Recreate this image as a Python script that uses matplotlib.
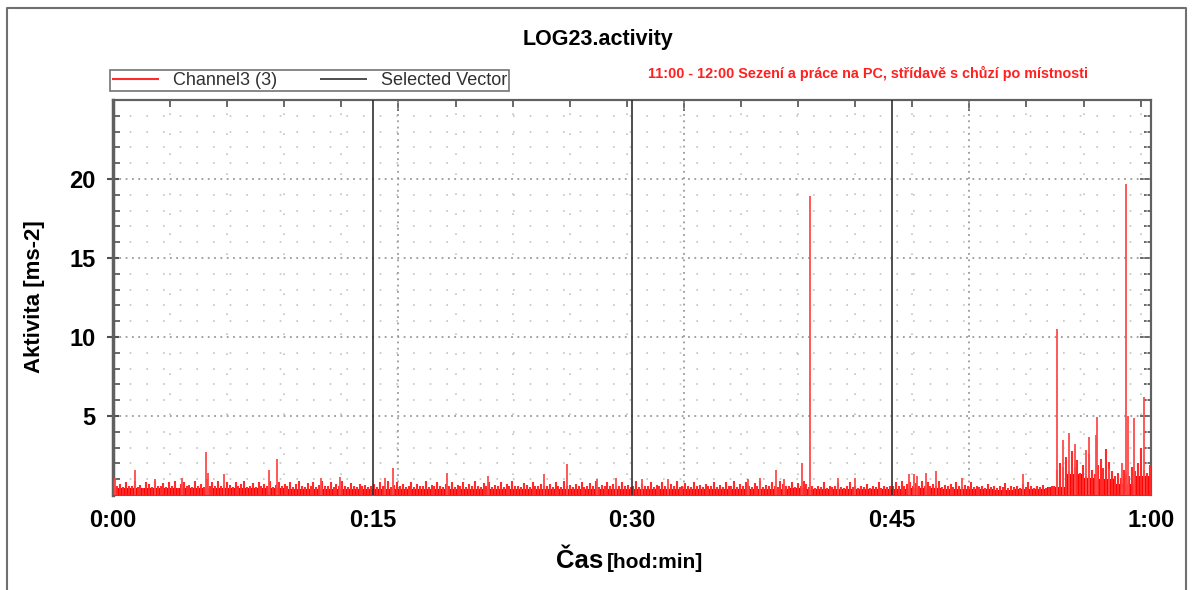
import numpy as np
import matplotlib
matplotlib.use("Agg")
import matplotlib.pyplot as plt
from matplotlib.lines import Line2D

plt.rcParams['font.family'] = ['Liberation Sans', 'DejaVu Sans']

# --- data (time in minutes, activity in ms-2) ---
# solid red floor, one value per minute
floor_min = [0.45, 0.47, 0.42, 0.45, 0.47, 0.45, 0.42, 0.45, 0.47, 0.42,
             0.40, 0.40, 0.38, 0.36, 0.40, 0.38, 0.36, 0.35, 0.36, 0.35,
             0.36, 0.35, 0.38, 0.35, 0.36, 0.38, 0.35, 0.36, 0.35, 0.38,
             0.35, 0.36, 0.38, 0.35, 0.36, 0.35, 0.38, 0.40, 0.40, 0.42,
             0.40, 0.36, 0.35, 0.36, 0.35, 0.38, 0.42, 0.45, 0.40, 0.36,
             0.35, 0.33, 0.35, 0.36, 0.50, 1.30, 1.10, 1.00, 0.70, 1.20]

# texture tops, one value per 10 s (rows of 5 minutes)
act_10s = [
    0.95, 0.6, 0.7, 0.5, 0.8, 0.55, 0.6, 0.9, 0.5, 0.65, 0.45, 0.85, 0.7, 0.5, 0.9, 0.6, 0.55, 0.75, 0.5, 0.8, 0.6, 0.9, 0.45, 0.7, 0.85, 0.55, 0.65, 0.5, 0.9, 0.6,
    0.7, 0.5, 1.0, 0.6, 0.8, 0.55, 0.9, 0.6, 0.5, 0.85, 0.65, 0.5, 0.8, 0.55, 0.7, 0.9, 0.5, 0.6, 0.75, 0.5, 0.85, 0.6, 0.7, 0.55, 0.9, 0.5, 0.65, 0.8, 0.6, 0.7,
    0.6, 0.8, 0.5, 0.7, 0.9, 0.55, 0.5, 0.75, 0.6, 0.85, 0.5, 0.65, 0.9, 0.55, 0.6, 0.8, 0.5, 0.7, 0.55, 0.9, 0.6, 0.5, 0.75, 0.6, 0.5, 0.7, 0.55, 0.65, 0.5, 0.6,
    0.7, 0.5, 0.85, 0.55, 0.6, 0.9, 0.5, 0.65, 0.8, 0.55, 0.7, 0.5, 0.6, 0.85, 0.5, 0.7, 0.55, 0.6, 0.9, 0.5, 0.65, 0.55, 0.8, 0.6, 0.5, 0.7, 0.6, 0.85, 0.5, 0.65,
    0.6, 0.8, 0.5, 0.7, 0.55, 0.9, 0.6, 0.5, 0.75, 0.6, 0.85, 0.5, 0.65, 0.55, 0.8, 0.5, 0.7, 0.6, 0.9, 0.55, 0.6, 0.5, 0.75, 0.65, 0.5, 0.8, 0.6, 0.55, 0.7, 0.6,
    0.55, 0.7, 0.5, 0.85, 0.6, 0.5, 0.9, 0.55, 0.65, 0.5, 0.7, 0.6, 0.8, 0.5, 0.6, 0.75, 0.55, 0.9, 0.5, 0.65, 0.6, 0.8, 0.55, 0.7, 0.5, 0.6, 0.85, 0.55, 0.65, 0.5,
    0.6, 0.9, 0.5, 0.7, 0.55, 0.6, 0.8, 0.5, 0.65, 0.55, 0.85, 0.6, 0.5, 0.7, 0.6, 0.9, 0.5, 0.55, 0.75, 0.6, 0.5, 0.8, 0.55, 0.65, 0.5, 0.7, 0.6, 0.55, 0.85, 0.5,
    0.65, 0.5, 0.8, 0.6, 0.55, 0.9, 0.5, 0.7, 0.6, 0.85, 0.55, 0.5, 0.75, 0.6, 0.9, 0.5, 0.65, 0.55, 0.8, 0.6, 0.5, 0.9, 0.7, 0.55, 0.6, 0.85, 0.5, 0.75, 0.6, 0.9,
    0.7, 0.5, 0.6, 0.45, 0.55, 0.5, 0.8, 0.45, 0.6, 0.5, 0.55, 0.75, 0.5, 0.45, 0.6, 0.85, 0.5, 0.55, 0.45, 0.6, 0.5, 0.7, 0.45, 0.55, 0.5, 0.8, 0.45, 0.6, 0.5, 0.55,
    0.6, 0.8, 0.55, 0.9, 0.6, 0.7, 0.85, 0.6, 0.75, 0.55, 0.9, 0.6, 0.8, 0.55, 0.7, 0.6, 0.9, 0.5, 0.65, 0.55, 0.7, 0.5, 0.85, 0.6, 0.5, 0.65, 0.55, 0.8, 0.5, 0.6,
    0.5, 0.6, 0.45, 0.7, 0.5, 0.55, 0.45, 0.6, 0.5, 0.75, 0.45, 0.55, 0.5, 0.6, 0.45, 0.7, 0.5, 0.85, 0.55, 0.45, 0.6, 0.5, 0.65, 0.45, 0.5, 0.55, 0.6, 1.6, 2.0, 1.8,
    2.4, 1.5, 2.8, 1.8, 2.2, 1.4, 1.9, 1.2, 2.6, 1.6, 1.3, 1.9, 2.3, 1.7, 2.9, 2.1, 1.5, 1.2, 1.4, 1.1, 1.6, 1.3, 1.2, 1.8, 1.5, 2.0, 3.0, 1.6, 1.4, 1.9,
]

# notable spikes
spike_t = [0.10, 1.27, 2.40, 4.00, 5.36, 5.50, 6.40, 9.00, 9.50, 12.0,
           13.1, 15.7, 16.2, 19.3, 21.7, 24.9, 26.25, 28.0, 29.05, 30.55,
           32.1, 36.7, 37.4, 38.3, 38.8, 39.85, 40.3, 41.9, 42.9, 46.0,
           46.3, 46.5, 47.0, 47.6, 49.1, 52.6, 54.57, 54.9, 55.25, 55.6,
           56.25, 56.4, 56.8, 56.9, 57.6, 58.3, 58.57, 58.65, 58.99, 59.6]
spike_v = [1.05, 1.6, 1.0, 1.05, 2.7, 1.4, 1.3, 1.6, 2.3, 1.1,
           1.15, 1.1, 1.7, 1.4, 1.2, 1.3, 1.95, 1.0, 1.05, 1.0,
           1.0, 1.0, 1.05, 1.6, 1.0, 2.0, 18.9, 1.1, 1.1, 1.3,
           1.35, 1.2, 1.4, 1.55, 1.05, 1.3, 10.5, 3.5, 3.95, 3.2,
           2.85, 3.65, 3.8, 4.95, 1.65, 2.0, 19.7, 5.0, 4.9, 6.2]

selected = [15, 30, 45]
xtick_pos = [0, 15, 30, 45, 60]
xtick_lab = ['0:00', '0:15', '0:30', '0:45', '1:00']
ytick_pos = [5, 10, 15, 20]

RED = '#ff0000'

fig = plt.figure(figsize=(11.92, 5.90), dpi=100)
ax = fig.add_axes([113/1192, 95/590, 1038/1192, 395/590])

edges = np.arange(len(floor_min) + 1)
ax.fill_between(edges, floor_min + [floor_min[-1]], step='post', color=RED, lw=0, zorder=3)

t10 = (np.arange(len(act_10s)) + 0.5) / 6.0
tex = ax.vlines(t10, 0, act_10s, colors='#ff2a2a', lw=1.5, zorder=3, label='Channel3 (3)')
ax.vlines(spike_t, 0, spike_v, colors='#ff4a4a', lw=1.3, zorder=4)

sel = ax.vlines(selected, 0, 25, colors='#303030', lw=1.2, zorder=5, label='Selected Vector')

ax.set_xlim(0, 60)
ax.set_ylim(0, 25)

# grid
ax.set_yticks(ytick_pos)
ax.set_yticks(np.arange(1, 25), minor=True)
ax.set_xticks(xtick_pos)
ax.set_xticklabels(xtick_lab)
for y in ytick_pos:
    ax.axhline(y, color='#9a9a9a', lw=1.3, ls=(0, (1, 2.5)), zorder=1)
for y in range(1, 25):
    if y % 5:
        ax.axhline(y, color='#c4c4c4', lw=1.2, ls=(0, (1, 9)), zorder=1)
top_steps = np.arange(0, 60, 3.3)
for i, x in enumerate(top_steps):
    if i % 5 == 0 and i > 0:
        ax.axvline(x, color='#9a9a9a', lw=1.3, ls=(0, (1, 2.5)), zorder=1)
    elif i > 0:
        ax.axvline(x, color='#c4c4c4', lw=1.2, ls=(0, (1, 11)), zorder=1)

ax.tick_params(axis='x', which='both', length=0, pad=10, labelsize=17)
ax.tick_params(axis='y', which='major', direction='inout', length=9, width=1.5,
               color='#505050', pad=8, labelsize=17)
ax.tick_params(axis='y', which='minor', direction='in', length=5, width=1.2, color='#505050')
for lab in ax.get_xticklabels() + ax.get_yticklabels():
    lab.set_fontweight('bold')

sec_top = ax.secondary_xaxis('top')
sec_top.set_xticks([x for i, x in enumerate(top_steps) if i % 5 == 0 and i > 0])
sec_top.set_xticks([x for i, x in enumerate(top_steps) if i % 5], minor=True)
sec_top.tick_params(which='major', direction='in', length=8, width=1.2, color='#505050', labelsize=0)
sec_top.tick_params(which='minor', direction='in', length=5, width=1.2, color='#505050')
sec_top.set_xticklabels([])

sec_r = ax.secondary_yaxis('right')
sec_r.set_yticks(ytick_pos)
sec_r.set_yticks(np.arange(1, 25), minor=True)
sec_r.tick_params(which='major', direction='in', length=8, width=1.2, color='#505050')
sec_r.tick_params(which='minor', direction='in', length=5, width=1.2, color='#505050')
sec_r.set_yticklabels([])

for s in ax.spines.values():
    s.set_color('#606060')
    s.set_linewidth(1.5)
ax.spines['left'].set_linewidth(2.5)
for a in (sec_top, sec_r):
    for s in a.spines.values():
        s.set_color('#606060')
        s.set_linewidth(1.5)

# texts
fig.text(598/1192, 1 - 40/590, 'LOG23.activity', ha='center', va='center',
         fontsize=15.5, fontweight='bold')
fig.text(648/1192, 1 - 73/590, '11:00 - 12:00 Sezení a práce na PC, střídavě s chůzí po místnosti',
         ha='left', va='center', fontsize=10.4, fontweight='bold', color='#ff2020')
fig.text(603/1192, 1 - 568/590, 'Čas', ha='right', va='baseline', fontsize=18.5, fontweight='bold')
fig.text(607/1192, 1 - 568/590, '[hod:min]', ha='left', va='baseline', fontsize=15, fontweight='bold')
fig.text(35/1192, 1 - 297/590, 'Aktivita [ms-2]', rotation=90, ha='center', va='center',
         fontsize=16, fontweight='bold')

leg = fig.legend(handles=[tex, sel], loc='lower left', bbox_to_anchor=(110/1192, 1 - 91/590),
                 ncol=2, frameon=True, fancybox=False, edgecolor='#505050', fontsize=13,
                 handlelength=2.6, handletextpad=0.75, columnspacing=2.4, borderpad=0.12,
                 borderaxespad=0)
leg.get_frame().set_linewidth(1.2)
for txt in leg.get_texts():
    txt.set_color('#303030')

# outer frame
W, H = 1192, 590
fig.add_artist(Line2D([7/W, 7/W, 1186/W, 1186/W], [0, 1 - 8/H, 1 - 8/H, 0],
                      color='#707070', lw=1.5, transform=fig.transFigure))

fig.savefig('out.png', dpi=100)
